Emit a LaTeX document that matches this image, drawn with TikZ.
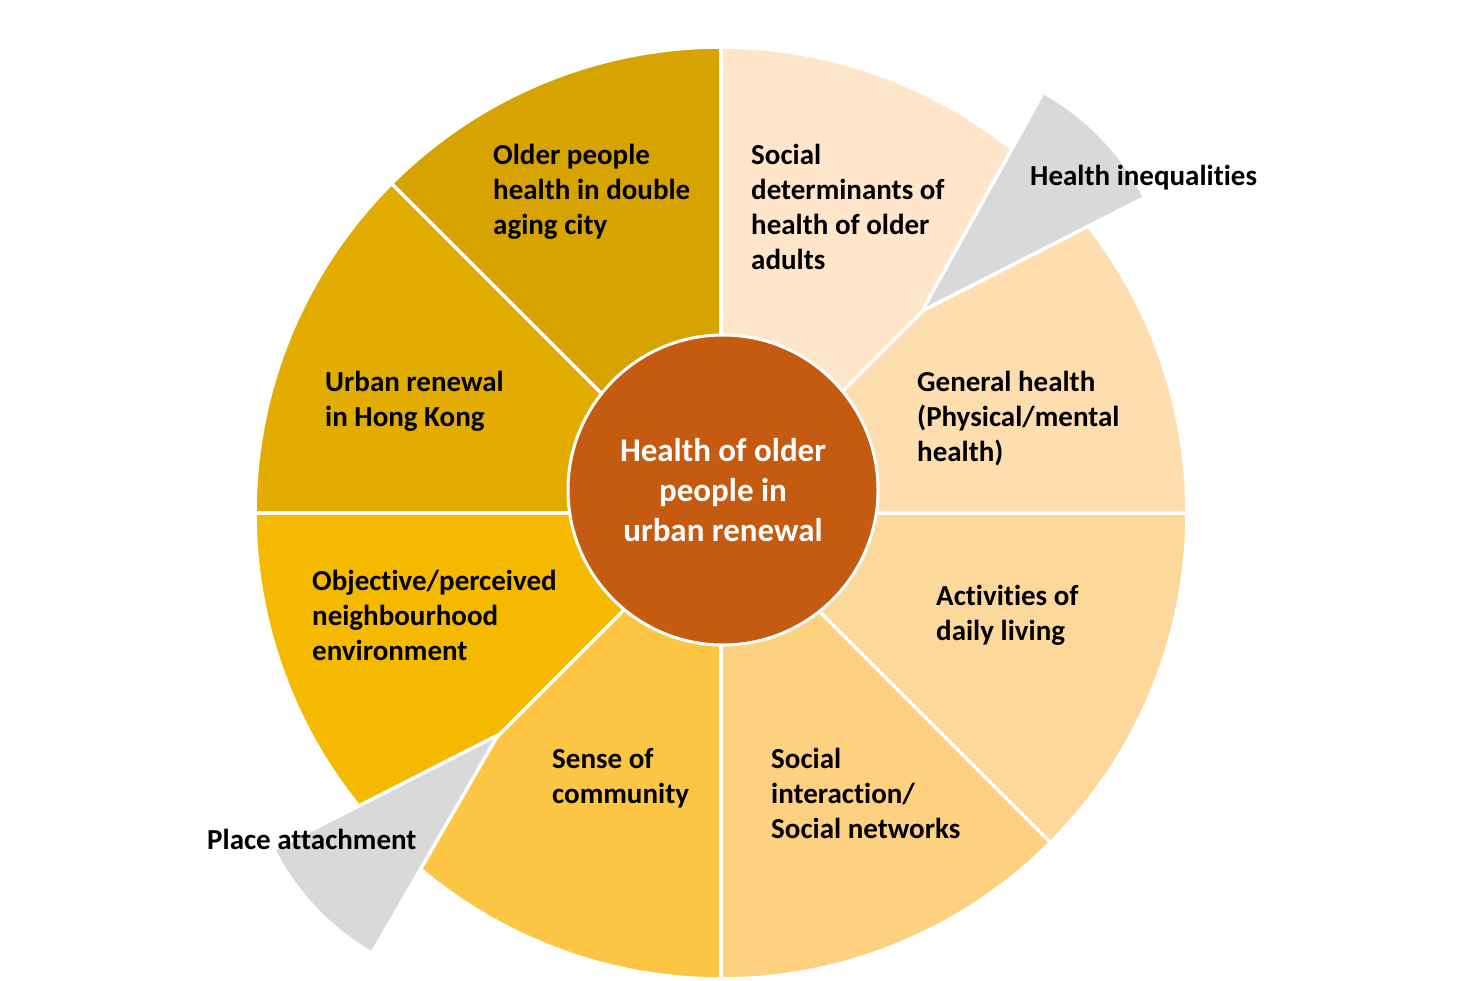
\documentclass[tikz,border=0pt]{standalone}
\usepackage{fontspec}
\setmainfont{Carlito}[Ligatures=NoCommon]
\usepackage{xcolor}
\usepackage{tikz}

\definecolor{ringA}{HTML}{D6A300}
\definecolor{ringB}{HTML}{E3AC00}
\definecolor{ringC}{HTML}{F5B900}
\definecolor{ringD}{HTML}{FCC543}
\definecolor{ringE}{HTML}{FDD180}
\definecolor{ringF}{HTML}{FDD89B}
\definecolor{ringG}{HTML}{FEDEAE}
\definecolor{ringH}{HTML}{FFE6CA}
\definecolor{hubfill}{HTML}{C55A11}
\definecolor{tipgrey}{HTML}{D9D9D9}

\begin{document}
\begin{tikzpicture}[
  x=1pt,
  y=-1pt,
  every node/.style={font=\bfseries},
  lbl/.style={anchor=base west, align=left, inner sep=0pt, font=\bfseries\fontsize{29}{35}\selectfont},
  sector/.style={draw=white, line width=3.5pt, line join=round},
]
\path[use as bounding box] (0,0) rectangle (1471,981);

% Layout.
\def\ringr{466} % outer radius
\coordinate (ctr) at (721,513);

% Ring of eight sectors.
\foreach \a/\col in {225/ringA,180/ringB,135/ringC,90/ringD,45/ringE,0/ringF,315/ringG,270/ringH} {
  \fill[\col, sector] (ctr) -- ++(\a:\ringr) arc[start angle=\a, end angle=\a+45, radius=\ringr] -- cycle;
}

% Grey tips.
\coordinate (tipNE) at (922,311);
\coordinate (tipSW) at (498,735);
\fill[tipgrey, sector] (tipNE) -- ++(299:250) arc[start angle=299, end angle=333, radius=250] -- cycle;
\fill[tipgrey, sector] (tipSW) -- ++(120:252) arc[start angle=120, end angle=153, radius=252] -- cycle;

% Centre.
\node[circle, fill=hubfill, draw=white, line width=3pt, minimum size=310, inner sep=0pt,
  align=center, text=white, font=\bfseries\fontsize{33}{40}\selectfont] (hub) at (723,490)
  {Health of older\\people in\\urban renewal};

% Sector labels (base = last line).
\node[lbl] (older) at (493,235) {Older people\\health in double\\aging city};
\node[lbl] (socdet) at (751,270) {Social\\determinants of\\health of older\\adults};
\node[lbl] (urban) at (325,426) {Urban renewal\\in Hong Kong};
\node[lbl] (general) at (917,461) {General health\\(Physical/mental\\health)};
\node[lbl] (objective) at (312,660) {Objective/perceived\\neighbourhood\\environment};
\node[lbl] (adl) at (936,640) {Activities of\\daily living};
\node[lbl] (sense) at (552,803) {Sense of\\community};
\node[lbl] (social) at (771,838) {Social\\interaction/\\Social networks};

% Tip labels.
\node[lbl] (ineq) at (1030,186) {Health inequalities};
\node[lbl] (place) at (207,849) {Place attachment};

\end{tikzpicture}
\end{document}
